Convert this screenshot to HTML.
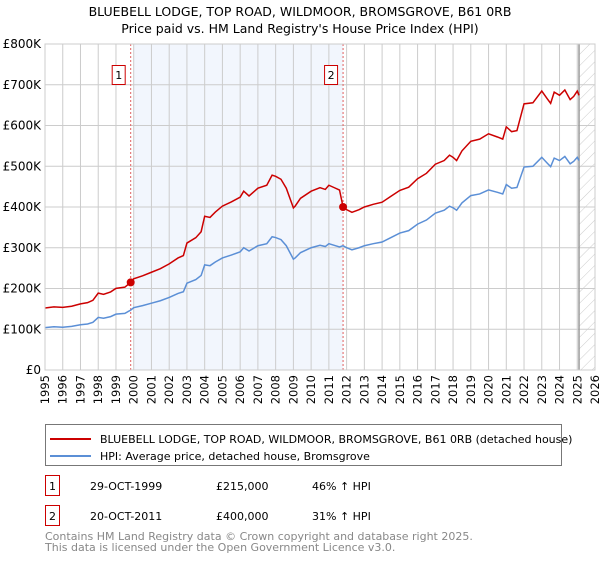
<!DOCTYPE html>
<html><head><meta charset="utf-8"><style>
body{margin:0;background:#fff;font-family:"DejaVu Sans","Liberation Sans",sans-serif;}
svg text{font-family:"DejaVu Sans","Liberation Sans",sans-serif;}
</style></head><body>
<svg id="chart" width="600" height="560" viewBox="0 0 600 560" xmlns="http://www.w3.org/2000/svg">
<defs><pattern id="hatch" patternUnits="userSpaceOnUse" width="8" height="8" patternTransform="rotate(45)"><line x1="0" y1="0" x2="0" y2="8" stroke="#ccc" stroke-width="1"/></pattern></defs>
<text x="300" y="16" text-anchor="middle" font-size="12.5">BLUEBELL LODGE, TOP ROAD, WILDMOOR, BROMSGROVE, B61 0RB</text>
<text x="300" y="33" text-anchor="middle" font-size="12.5">Price paid vs. HM Land Registry's House Price Index (HPI)</text>
<g id="plot"></g>
<g>
<rect x="45.5" y="424.5" width="516" height="41" fill="#fff" stroke="#777"/>
<line x1="50" y1="439" x2="91" y2="439" stroke="#cc0000" stroke-width="2"/>
<text x="100" y="443" font-size="11">BLUEBELL LODGE, TOP ROAD, WILDMOOR, BROMSGROVE, B61 0RB (detached house)</text>
<line x1="50" y1="456" x2="91" y2="456" stroke="#5b8fd6" stroke-width="2"/>
<text x="100" y="460" font-size="11">HPI: Average price, detached house, Bromsgrove</text>
</g>
<g font-size="11">
<rect x="45.5" y="475.5" width="14" height="20" fill="#fff" stroke="#cc0000"/>
<text x="52.5" y="490" text-anchor="middle">1</text>
<text x="90" y="490">29-OCT-1999</text><text x="216" y="490">£215,000</text><text x="312" y="490">46% ↑ HPI</text>
</g>
<g font-size="11">
<rect x="45.5" y="505.5" width="14" height="20" fill="#fff" stroke="#cc0000"/>
<text x="52.5" y="520" text-anchor="middle">2</text>
<text x="90" y="520">20-OCT-2011</text><text x="216" y="520">£400,000</text><text x="312" y="520">31% ↑ HPI</text>
</g>
<text x="45" y="540" font-size="11" fill="#888">Contains HM Land Registry data © Crown copyright and database right 2025.</text>
<text x="45" y="551" font-size="11" fill="#888">This data is licensed under the Open Government Licence v3.0.</text>
</svg>
<script>
const hpiYears=[1995,1995.5,1996,1996.5,1997,1997.4,1997.7,1998,1998.3,1998.7,1999,1999.5,1999.83,2000,2000.5,2001,2001.5,2002,2002.5,2002.8,2003,2003.5,2003.8,2004,2004.3,2004.6,2005,2005.5,2006,2006.2,2006.5,2007,2007.5,2007.8,2008,2008.3,2008.6,2009,2009.1,2009.4,2010,2010.5,2010.8,2011,2011.3,2011.6,2011.8,2012,2012.3,2012.7,2013,2013.5,2014,2014.5,2015,2015.5,2016,2016.5,2017,2017.5,2017.8,2018,2018.2,2018.5,2019,2019.5,2020,2020.5,2020.8,2021,2021.3,2021.6,2022,2022.5,2023,2023.3,2023.5,2023.7,2024,2024.3,2024.6,2024.8,2025,2025.1];
const hpiValues=[104,106,105,107,111,113,117,129,127,131,137,139,147,153,158,164,170,178,188,192,213,222,232,258,256,265,275,282,290,300,292,305,310,327,325,320,305,272,275,288,300,306,303,310,306,302,305,300,295,300,305,310,314,325,336,342,358,368,385,392,402,398,392,410,428,432,442,436,432,455,446,448,498,500,522,508,499,520,514,524,506,512,522,514];
const saleYears=[1999.83,2011.8];
const salePrices=[215,400];
const yTicks=[0,100,200,300,400,500,600,700,800];
const yTickLabels=["£0","£100K","£200K","£300K","£400K","£500K","£600K","£700K","£800K"];
const xTicks=[1995,1996,1997,1998,1999,2000,2001,2002,2003,2004,2005,2006,2007,2008,2009,2010,2011,2012,2013,2014,2015,2016,2017,2018,2019,2020,2021,2022,2023,2024,2025,2026];
const X0=45,X1=595,Y0=370,Y1=44;
const xs=y=>X0+(y-1995)/(2026-1995)*(X1-X0);
const ys=v=>Y0-v/800*(Y0-Y1);
const NS="http://www.w3.org/2000/svg";
const g=document.getElementById('plot');
function mk(t,a){const e=document.createElementNS(NS,t);for(const k in a)e.setAttribute(k,a[k]);g.appendChild(e);return e;}
let sh=mk('rect',{x:xs(saleYears[0])+3,y:Y1,width:xs(saleYears[1])-xs(saleYears[0])-3,height:Y0-Y1,fill:'#f2f6fd'});


let ht=mk('rect',{x:xs(2025.1),y:Y1,width:X1-xs(2025.1),height:Y0-Y1,fill:'url(#hatch)'});


xTicks.forEach(t=>{const l=mk('line',{x1:xs(t),x2:xs(t),y1:Y1,y2:Y0,stroke:'#ccc'});


const tx=mk('text',{x:0,y:0,'font-size':11.5,'text-anchor':'end',transform:`translate(${xs(t)+4},${Y0+5}) rotate(-90)`});tx.textContent=t;

});
yTicks.forEach((t,i)=>{const l=mk('line',{x1:X0,x2:X1,y1:ys(t),y2:ys(t),stroke:'#ccc'});


const tx=mk('text',{x:X0-4,y:ys(t)+4,'font-size':12,'text-anchor':'end'});tx.textContent=yTickLabels[i];

});
let vl=mk('line',{x1:xs(2025.1),x2:xs(2025.1),y1:Y1,y2:Y0,stroke:'#999','stroke-width':1.5});


saleYears.forEach((s,i)=>{const l=mk('line',{x1:xs(s),x2:xs(s),y1:Y1,y2:Y0,stroke:'#e06060','stroke-dasharray':'2,2'});


const b=mk('rect',{x:xs(s)-18.5,y:65.5,width:13,height:19,fill:'#fff',stroke:'#cc0000'});


const t=mk('text',{x:xs(s)-12,y:79,'font-size':11,'text-anchor':'middle'});t.textContent=i+1;

});
const hp=hpiYears.map((y,i)=>xs(y)+','+ys(hpiValues[i])).join(' ');
const hl=mk('polyline',{points:hp,fill:'none',stroke:'#5b8fd6','stroke-width':1.5});


function hpiAt(y){for(let i=1;i<hpiYears.length;i++){if(y<=hpiYears[i]){const f=(y-hpiYears[i-1])/(hpiYears[i]-hpiYears[i-1]);return hpiValues[i-1]+f*(hpiValues[i]-hpiValues[i-1]);}}return hpiValues[hpiValues.length-1];}
const r0=salePrices[0]/hpiAt(saleYears[0]),r1=salePrices[1]/hpiAt(saleYears[1]);
const pp=hpiYears.map((y,i)=>{const r=y<saleYears[1]?r0:r1;return xs(y)+','+ys(hpiValues[i]*r);});
const pl=mk('polyline',{points:pp.join(' '),fill:'none',stroke:'#cc0000','stroke-width':1.5});


saleYears.forEach((s,i)=>{const c=mk('circle',{cx:xs(s),cy:ys(salePrices[i]),r:4,fill:'#cc0000'});

});
const fr=mk('rect',{x:X0,y:Y1,width:X1-X0,height:Y0-Y1,fill:'none',stroke:'#ccc'});


</script>
</body></html>
